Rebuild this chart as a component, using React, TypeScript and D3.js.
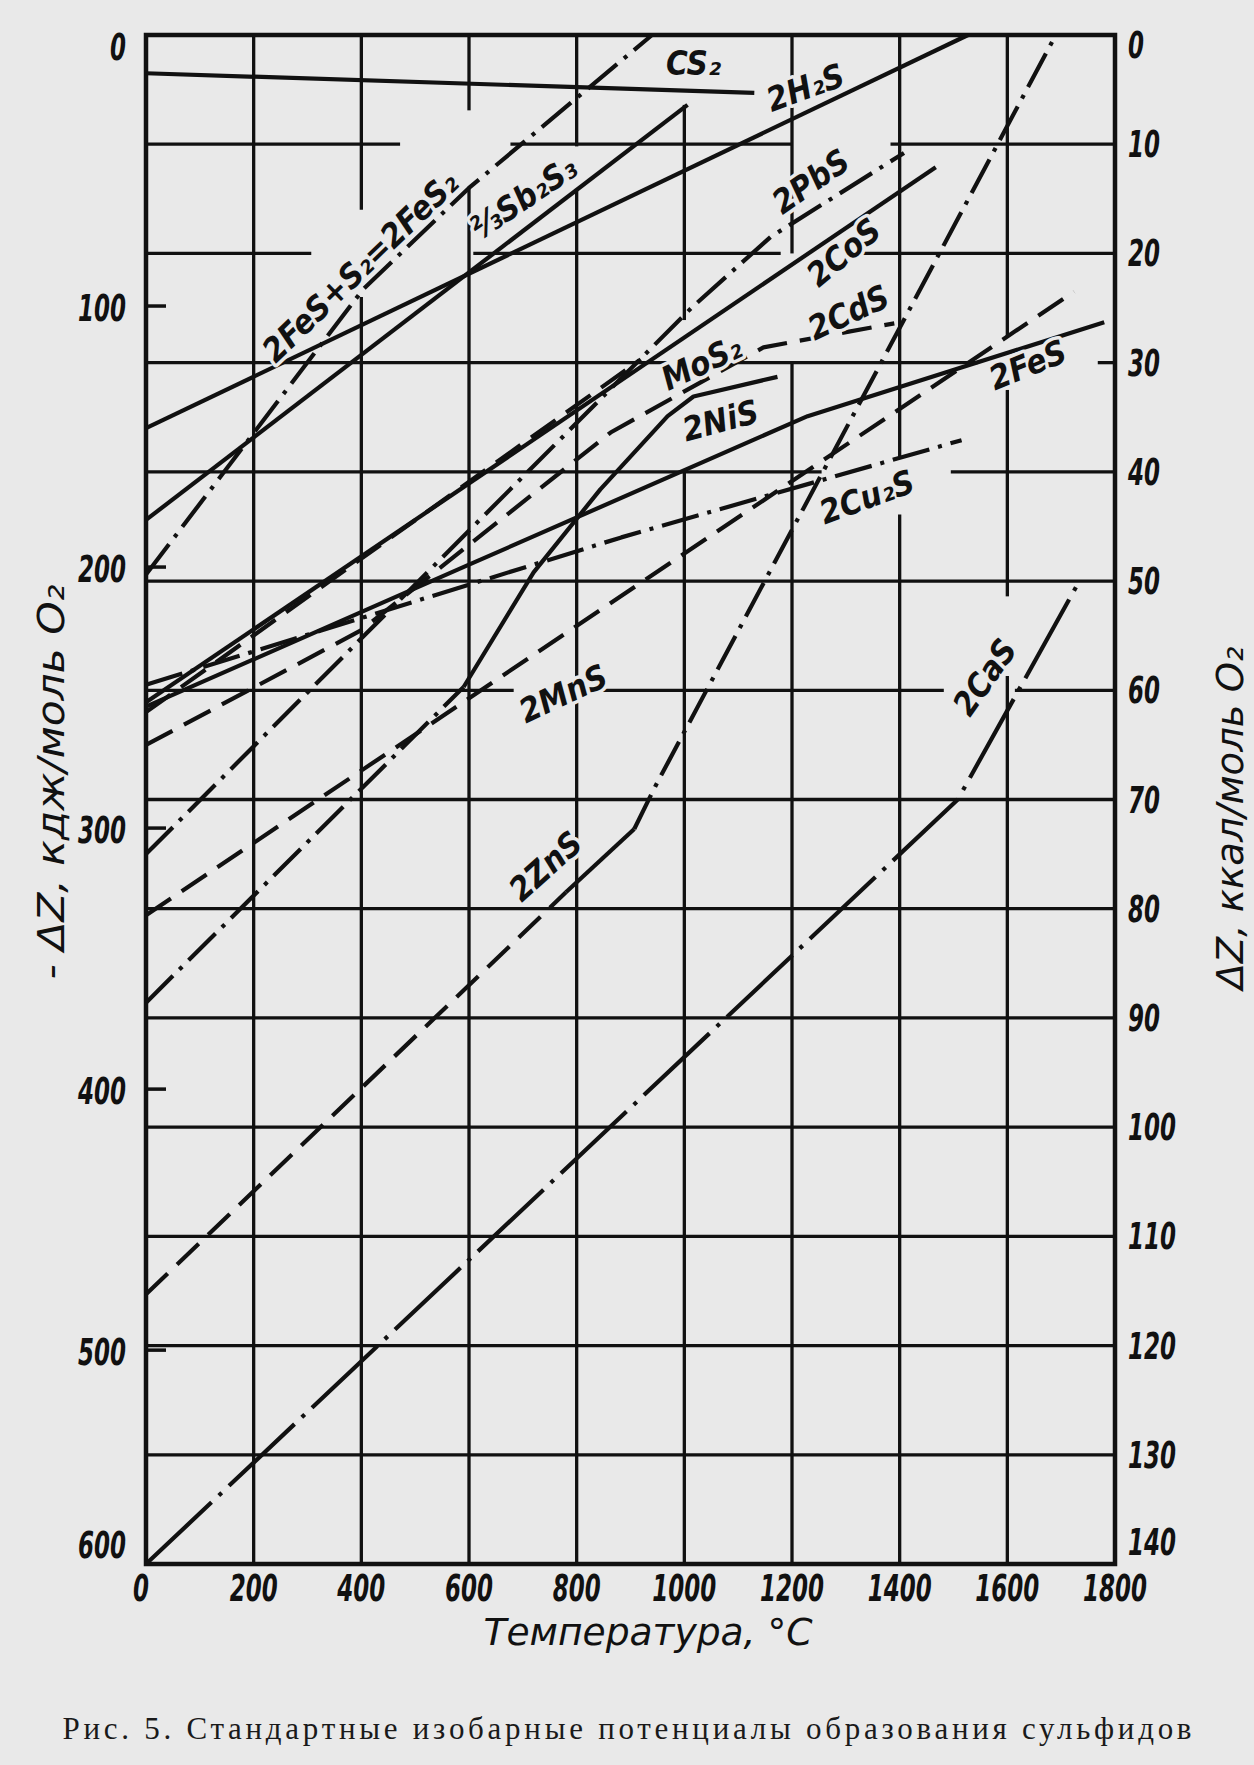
import React from 'react';
import * as d3 from 'd3';

// ---------- axes / ticks ----------
const tempTicks = [0, 200, 400, 600, 800, 1000, 1200, 1400, 1600, 1800];
const kcalTicks = [0, 10, 20, 30, 40, 50, 60, 70, 80, 90, 100, 110, 120, 130, 140];
const kjTicks = [0, 100, 200, 300, 400, 500, 600];

// ---------- series: [temperature °C, -ΔZ kcal] ----------
const CS2 = [[0, 3.5], [1130, 5.3]];
const H2S = [[0, 36.0], [1527, 0]];
const Sb2S3 = [[0, 44.4], [1006, 6.4]];
const FeS2 = [[0, 49.4], [403, 23.3], [600, 14.0], [940, 0]];
const CoS = [[0, 61.1], [1467, 12.1]];
const MoS2 = [[0, 62.0], [919, 29.7]];
const PbS = [[0, 75.0], [1015, 24.9], [1160, 18.5], [1408, 10.8]];
const CdS = [[0, 65.0], [400, 54.5], [863, 36.4], [1147, 28.6], [1390, 26.4]];
const NiSLow = [[0, 88.6], [590, 59.7]];
const NiSHigh = [[590, 59.7], [720, 49.2], [844, 41.6], [969, 34.9], [1017, 33.1], [1173, 31.3]];
const Cu2S = [[0, 59.5], [883, 46.0], [1515, 37.1]];
const FeS = [[0, 61.5], [600, 48.5], [1229, 34.9], [1780, 26.3]];
const MnS = [[0, 80.6], [1724, 23.5]];
const ZnSLow = [[0, 115.3], [780, 78.5]];
const ZnSMid = [[780, 78.5], [907, 72.7]];
const ZnSHigh = [[907, 72.7], [946, 68.8], [1690, 0]];
const CaS = [[0, 140], [1508, 70], [1735, 49.9]];

const series = [
  { id: 'CS2', pts: CS2, kind: 'solid' },
  { id: 'H2S', pts: H2S, kind: 'solid' },
  { id: 'Sb2S3', pts: Sb2S3, kind: 'solid' },
  { id: 'FeS2', pts: FeS2, kind: 'dashdot' },
  { id: 'CoS', pts: CoS, kind: 'solid' },
  { id: 'MoS2', pts: MoS2, kind: 'dashed' },
  { id: 'PbS', pts: PbS, kind: 'dashdot' },
  { id: 'CdS', pts: CdS, kind: 'dashed' },
  { id: 'NiSLow', pts: NiSLow, kind: 'dashdot' },
  { id: 'NiSHigh', pts: NiSHigh, kind: 'solid' },
  { id: 'Cu2S', pts: Cu2S, kind: 'dashdot' },
  { id: 'FeS', pts: FeS, kind: 'solid' },
  { id: 'MnS', pts: MnS, kind: 'dashed' },
  { id: 'ZnSLow', pts: ZnSLow, kind: 'dashed' },
  { id: 'ZnSMid', pts: ZnSMid, kind: 'solid' },
  { id: 'ZnSHigh', pts: ZnSHigh, kind: 'dashdot' },
  { id: 'CaS', pts: CaS, kind: 'longdashdot' },
];

// ---------- curve labels: [text, °C, kcal, angle] ----------
const curveLabels = [
  ['CS₂', 1017, 2.6, 0],
  ['2H₂S', 1225, 4.8, -20],
  ['2FeS+S₂=2FeS₂', 398, 21.2, -44],
  ['⅔Sb₂S₃', 701, 14.9, -34],
  ['2PbS', 1235, 13.4, -35],
  ['2CoS', 1296, 19.9, -40],
  ['2CdS', 1305, 25.4, -25],
  ['MoS₂', 1032, 30.0, -25],
  ['2NiS', 1067, 35.3, -15],
  ['2FeS', 1638, 30.2, -22],
  ['2Cu₂S', 1339, 42.3, -20],
  ['2MnS', 775, 60.3, -25],
  ['2ZnS', 742, 76.1, -42],
  ['2CaS', 1558, 58.8, -55],
];

// ---------- gaps in the grid (interrupted around the lettering) ----------
const vGridGaps = {
  400: [[16.0, 24.0]],
  600: [[6.9, 13.9]],
  800: [[10.2, 14.2]],
  1000: [[0, 6.4], [26.1, 39.8]],
  1200: [[20, 30]],
  1400: [[38.6, 43.9]],
  1600: [[27.6, 32.5], [51.4, 58.7]],
};
const hGridGaps = {
  10: [[472, 677], [1201, 1383]],
  20: [[307, 608], [1179, 1322]],
  30: [[969, 1091], [1545, 1768]],
  40: [[1255, 1495]],
  60: [[683, 826], [1482, 1614]],
};

const W = 1254;
const H = 1765;
const PAPER = '#e9e9e9';
const INK = '#111';
const FONT = "'DejaVu Sans Condensed', 'DejaVu Sans', sans-serif";

function segmentsWithout(lo, hi, gaps) {
  const out = [];
  let cur = lo;
  const sorted = (gaps || []).slice().sort((a, b) => a[0] - b[0]);
  for (const [a, b] of sorted) {
    if (a > cur) out.push([cur, a]);
    cur = Math.max(cur, b);
  }
  if (cur < hi) out.push([cur, hi]);
  return out;
}

export default function App() {
  const x = d3.scaleLinear().domain([0, 1800]).range([146, 1115]);
  const y = d3.scaleLinear().domain([0, 140]).range([35, 1564]);
  const kj = d3.scaleLinear().domain([0, 140 * 4.184]).range([35, 1564]).clamp(true);
  const line = d3
    .line()
    .x((d) => x(d[0]))
    .y((d) => y(d[1]));

  const dashFor = (k) =>
    k === 'dashed'
      ? '30,13'
      : k === 'dashdot'
      ? '38,9,4,9'
      : k === 'longdashdot'
      ? '90,10,4,10'
      : null;

  const [x0, x1] = x.range();
  const [y0, y1] = y.range();

  return (
    <svg
      width={W}
      height={H}
      viewBox={`0 0 ${W} ${H}`}
      style={{ position: 'absolute', left: 0, top: 0, background: PAPER }}
    >
      <rect x={0} y={0} width={W} height={H} fill={PAPER} />

      {/* grid */}
      <g stroke={INK} strokeWidth={3.3} strokeLinecap="butt">
        {tempTicks
          .filter((t) => t > 0 && t < 1800)
          .map((t) =>
            segmentsWithout(0, 140, vGridGaps[t]).map(([a, b], i) => (
              <line key={`v${t}-${i}`} x1={x(t)} x2={x(t)} y1={y(a)} y2={y(b)} />
            ))
          )}
        {kcalTicks
          .filter((v) => v > 0 && v < 140)
          .map((v) =>
            segmentsWithout(0, 1800, hGridGaps[v]).map(([a, b], i) => (
              <line key={`h${v}-${i}`} x1={x(a)} x2={x(b)} y1={y(v)} y2={y(v)} />
            ))
          )}
      </g>

      {/* frame */}
      <rect
        x={x0}
        y={y0}
        width={x1 - x0}
        height={y1 - y0}
        fill="none"
        stroke={INK}
        strokeWidth={4.5}
      />

      {/* left inward ticks (kJ) */}
      <g stroke={INK} strokeWidth={3.5}>
        {kjTicks
          .filter((v) => v > 0 && v < 600)
          .map((v) => (
            <line key={`kt${v}`} x1={x0} x2={x0 + 20} y1={kj(v) + 10} y2={kj(v) + 10} />
          ))}
      </g>

      {/* curves */}
      <g fill="none" stroke={INK} strokeWidth={4.2} strokeLinejoin="round">
        {series.map((s) => (
          <path key={s.id} d={line(s.pts)} strokeDasharray={dashFor(s.kind)} />
        ))}
      </g>

      {/* curve labels */}
      <g
        fontFamily={FONT}
        fontStyle="italic"
        fontWeight="bold"
        fontSize={33}
        fill={INK}
        stroke={PAPER}
        strokeWidth={7}
        paintOrder="stroke"
        strokeLinejoin="round"
      >
        {curveLabels.map(([txt, t, k, a]) => (
          <text
            key={txt + t}
            transform={`translate(${x(t)},${y(k)}) rotate(${a})`}
            textAnchor="middle"
            dominantBaseline="central"
          >
            {txt}
          </text>
        ))}
      </g>

      {/* tick labels */}
      <g fontFamily={FONT} fontStyle="italic" fontWeight="bold" fontSize={38} fill={INK}>
        {tempTicks.map((t) => (
          <text
            key={`xt${t}`}
            x={x(t) - (t === 0 ? 5 : 0)}
            y={1588}
            textAnchor="middle"
            dominantBaseline="central"
            textLength={String(t).length * 16}
            lengthAdjust="spacingAndGlyphs"
          >
            {t}
          </text>
        ))}
        {kcalTicks.map((v) => (
          <text
            key={`rt${v}`}
            x={x1 + 13}
            y={Math.max(45, Math.min(1542, y(v)))}
            textAnchor="start"
            dominantBaseline="central"
            textLength={String(v).length * 16}
            lengthAdjust="spacingAndGlyphs"
          >
            {v}
          </text>
        ))}
        {kjTicks.map((v) => (
          <text
            key={`lt${v}`}
            x={126}
            y={Math.max(39, Math.min(1545, kj(v) + 12))}
            textAnchor="end"
            dominantBaseline="central"
            textLength={String(v).length * 16}
            lengthAdjust="spacingAndGlyphs"
          >
            {v}
          </text>
        ))}
      </g>

      {/* axis titles */}
      <g fontFamily={FONT} fontStyle="italic" fontSize={38} fill={INK}>
        <text
          x={648}
          y={1632}
          textAnchor="middle"
          dominantBaseline="central"
          textLength={329}
          lengthAdjust="spacingAndGlyphs"
        >
          Температура, °С
        </text>
        <text
          transform="translate(51,782) rotate(-90)"
          textAnchor="middle"
          dominantBaseline="central"
          textLength={395}
          lengthAdjust="spacingAndGlyphs"
        >
          - ΔZ, кдж/моль O₂
        </text>
        <text
          transform="translate(1230,818) rotate(-90)"
          textAnchor="middle"
          dominantBaseline="central"
          textLength={343}
          lengthAdjust="spacingAndGlyphs"
        >
          ΔZ, ккал/моль O₂
        </text>
      </g>

      {/* caption */}
      <text
        x={627}
        y={1728}
        textAnchor="middle"
        dominantBaseline="central"
        fontFamily="'Liberation Serif', 'DejaVu Serif', serif"
        fontSize={31}
        fill="#1a1a1a"
        textLength={1129}
        lengthAdjust="spacing"
      >
        Рис. 5. Стандартные изобарные потенциалы образования сульфидов
      </text>
    </svg>
  );
}
